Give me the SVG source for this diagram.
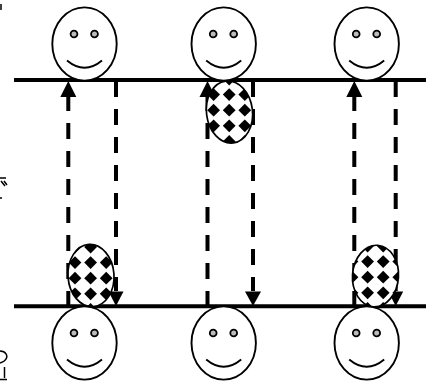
<svg xmlns="http://www.w3.org/2000/svg" xmlns:xlink="http://www.w3.org/1999/xlink" width="437" height="381" viewBox="0 0 437 381">
<style>
.face{fill:#fff;stroke:#000;stroke-width:1.9}
.eye{fill:#bbb;stroke:#000;stroke-width:1.8}
.mouth{fill:none;stroke:#000;stroke-width:1.9}
.rail{stroke:#000;stroke-width:4;fill:none}
.dash{stroke:#000;stroke-width:4;fill:none;stroke-dasharray:16 12}
.head{fill:#000}
.token{stroke:#000;stroke-width:1.7;fill:none}
.bg{fill:#fff;stroke:none}
.mark{fill:none;stroke:#000;stroke-width:1.5}
</style>
<defs>
<polygon id="d" points="0,-6.4 6.4,0 0,6.4 -6.4,0" fill="#000"/>
<filter id="soft" x="-5%" y="-5%" width="110%" height="110%"><feGaussianBlur stdDeviation="0.7"/></filter>
<clipPath id="c1"><ellipse cx="91" cy="275.500" rx="23" ry="31.200" transform="rotate(-4 91 275.500)"/></clipPath>
<clipPath id="c2"><ellipse cx="229.500" cy="112" rx="23" ry="31.200" transform="rotate(-7 229.500 112)"/></clipPath>
<clipPath id="c3"><ellipse cx="375.500" cy="276" rx="23" ry="30.800" transform="rotate(4 375.500 276)"/></clipPath>
<g id="grid"><use xlink:href="#d" x="0" y="0"/><use xlink:href="#d" x="15.6" y="0"/><use xlink:href="#d" x="31.2" y="0"/><use xlink:href="#d" x="46.8" y="0"/><use xlink:href="#d" x="0" y="15.6"/><use xlink:href="#d" x="15.6" y="15.6"/><use xlink:href="#d" x="31.2" y="15.6"/><use xlink:href="#d" x="46.8" y="15.6"/><use xlink:href="#d" x="0" y="31.2"/><use xlink:href="#d" x="15.6" y="31.2"/><use xlink:href="#d" x="31.2" y="31.2"/><use xlink:href="#d" x="46.8" y="31.2"/><use xlink:href="#d" x="0" y="46.8"/><use xlink:href="#d" x="15.6" y="46.8"/><use xlink:href="#d" x="31.2" y="46.8"/><use xlink:href="#d" x="46.8" y="46.8"/><use xlink:href="#d" x="0" y="62.4"/><use xlink:href="#d" x="15.6" y="62.4"/><use xlink:href="#d" x="31.2" y="62.4"/><use xlink:href="#d" x="46.8" y="62.4"/></g>
<g id="smile"><ellipse class="face" cx="0" cy="0" rx="32.2" ry="36.6"/><circle class="eye" cx="-10.5" cy="-10" r="3.4"/><circle class="eye" cx="10" cy="-10" r="3.4"/><path class="mouth" d="M-17.5 16.5Q0 31 17.5 16.5"/></g>
</defs>
<rect width="437" height="381" fill="#fff"/>
<path class="mark" d="M0 178H6M1 181L5 186M4 181L7 185M0 198H2M1 4V10M0 351C6 351 8 356 6 359C5 361 3 362 0 363M4.500 367V378M0 379.500H7"/>
<g id="connectors">
<path class="rail" d="M14 80H426"/>
<path class="rail" d="M14 306.300H426"/>
<path class="dash" d="M68.300 307V95"/><polygon class="head" points="68.300,81 60.300,97 76.300,97"/>
<path class="dash" d="M116 81V291"/><polygon class="head" points="116,306 108.500,291.500 123.500,291.500"/>
<path class="dash" d="M207.500 307V95"/><polygon class="head" points="207.500,81 199.500,97 215.500,97"/>
<path class="dash" d="M253 81V291"/><polygon class="head" points="253,306 245,291.500 261,291.500"/>
<path class="dash" d="M354.300 307V95"/><polygon class="head" points="354.300,81 346.300,97 362.300,97"/>
<path class="dash" d="M395.700 81V291"/><polygon class="head" points="395.700,306 388.200,291.500 403.200,291.500"/>
</g>
<g id="token-1"><rect class="bg" x="60" y="240" width="60" height="70" clip-path="url(#c1)"/><g clip-path="url(#c1)"><use xlink:href="#grid" x="59.400" y="247" filter="url(#soft)"/></g><ellipse class="token" cx="91" cy="275.500" rx="23" ry="31.200" transform="rotate(-4 91 275.500)"/></g>
<g id="token-2"><rect class="bg" x="200" y="75" width="60" height="75" clip-path="url(#c2)"/><g clip-path="url(#c2)"><use xlink:href="#grid" x="198" y="79" filter="url(#soft)"/></g><ellipse class="token" cx="229.500" cy="112" rx="23" ry="31.200" transform="rotate(-7 229.500 112)"/></g>
<g id="token-3"><rect class="bg" x="345" y="240" width="60" height="70" clip-path="url(#c3)"/><g clip-path="url(#c3)"><use xlink:href="#grid" x="352" y="246" filter="url(#soft)"/></g><ellipse class="token" cx="375.500" cy="276" rx="23" ry="30.800" transform="rotate(4 375.500 276)"/></g>
<g id="person-top-1"><use xlink:href="#smile" x="84.500" y="44"/></g>
<g id="person-top-2"><use xlink:href="#smile" x="223.700" y="44"/></g>
<g id="person-top-3"><use xlink:href="#smile" x="366.700" y="44"/></g>
<g id="person-bottom-1"><use xlink:href="#smile" x="84.500" y="343"/></g>
<g id="person-bottom-2"><use xlink:href="#smile" x="223.700" y="343"/></g>
<g id="person-bottom-3"><use xlink:href="#smile" x="366.700" y="343"/></g>
</svg>
